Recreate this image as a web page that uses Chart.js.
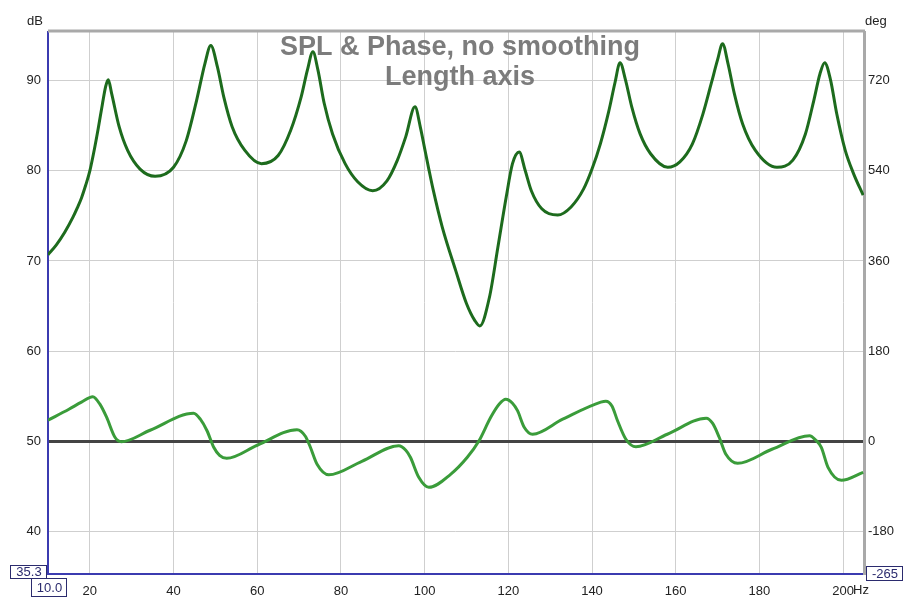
<!DOCTYPE html>
<html>
<head>
<meta charset="utf-8">
<title>SPL & Phase</title>
<script src="https://cdn.jsdelivr.net/npm/chart.js@4/dist/chart.umd.min.js"></script>
<style>
  html, body { margin: 0; padding: 0; background: #fff; }
  #wrap { width: 903px; height: 598px; }
</style>
</head>
<body>
<div id="wrap"><canvas id="splChart" width="903" height="598"></canvas></div>
<script>
// ---- data ----
// SPL trace (frequency in Hz, level in dB)
const splHz = [
  10, 12, 14, 16, 17, 18, 19, 20, 21, 22, 23, 23.8, 24.4, 25.2, 27, 29, 32, 35.6,
  40, 43, 45.5, 47.5, 48.9, 50.5, 52, 54, 57, 61,
  65, 68, 70.5, 72, 73.3, 74.5, 76, 78, 81, 84, 87.6,
  91, 93.5, 95.5, 97.7, 99, 100, 101, 102, 104.2, 107.4, 110, 112, 113.2,
  115.5, 117.5, 119.5, 121, 122.6, 124, 125.5, 128, 131.8,
  135, 138, 140, 142, 144, 145.5, 146.7, 148, 149.5, 151.5, 154, 158.1,
  161, 164, 166.5, 168.5, 170, 171.2, 172.5, 174, 176, 179, 184.2,
  188, 191, 193, 194.5, 195.6, 197, 198.5, 200.5, 202.5, 204.8
];
const splDb = [
  70.7, 71.8, 73.2, 74.9, 75.9, 77.0, 78.4, 80.0, 82.2, 84.7, 87.4, 89.4, 90.1, 88.6, 84.9, 82.3, 80.2, 79.4,
  80.4, 83.3, 87.8, 91.9, 93.9, 91.5, 88.2, 84.9, 82.3, 80.8,
  81.7, 84.5, 88.2, 91.2, 93.2, 91.2, 87.5, 84.1, 80.8, 78.8, 77.8,
  78.9, 81.2, 83.8, 87.1, 84.8, 82.5, 80.2, 78.0, 73.8, 69.0, 65.3, 63.4, 62.8,
  66.0, 71.5, 77.1, 80.8, 82.1, 80.1, 77.8, 75.8, 75.1,
  76.0, 78.0, 80.2, 83.0, 86.6, 89.8, 92.0, 90.1, 87.1, 84.1, 81.9, 80.4,
  81.0, 83, 86.3, 89.7, 92.3, 94.1, 91.9, 88.6, 85.2, 82.3, 80.4,
  81.2, 84.1, 87.8, 90.8, 92.0, 90.1, 86.3, 82.3, 79.7, 77.3
];

// Phase trace (frequency in Hz, phase in degrees)
const phaseHz = [
  10, 15, 18, 20.7, 22.4, 24.0, 26, 27.5, 34.4, 44.8, 46.4, 48, 49.6, 51, 52.7,
  60, 69.5, 71.5, 72.7, 74.3, 77.1, 85, 93.8, 95.5, 96.6, 98.6, 101,
  106.2, 110.2, 113, 115.8, 117.8, 119.4, 121, 122.2, 123.8, 125.8,
  133, 142.1, 143.3, 144.8, 146.1, 148.1, 150.5, 158, 167.3, 168.8, 170.4, 172, 174.8,
  183, 192, 193.5, 194.8, 196.4, 199.6, 204.8
];
const phaseDeg = [
  42, 64, 78, 89, 74, 48, 8, -1, 22, 56, 44, 21, -12, -28, -34,
  -8, 23, 10, -12, -46, -67, -40, -9, -18, -32, -72, -92,
  -66, -32, 1, 48, 74, 84, 76, 61, 28, 14,
  44, 78, 80, 70, 41, 4, -11, 14, 46, 36, 8, -26, -44,
  -16, 11, 2, -12, -52, -78, -62
];

// axes
const hzRange = [10, 205];
const dbRange = [35.3, 95.4];
const degRange = [-265, 817];
const hzTicks = [20, 40, 60, 80, 100, 120, 140, 160, 180, 200];
const dbTicks = [40, 50, 60, 70, 80, 90];
const degTicks = [-180, 0, 180, 360, 540, 720];
const titleLines = ['SPL & Phase, no smoothing', 'Length axis'];

const FONT = "'Liberation Sans', Arial, sans-serif";
const colors = {
  spl: '#1d6b1d',
  phase: '#3a9c3a',
  grid: '#cfcfcf',
  zero: '#444444',
  axisBlue: '#3b3bb0',
  frame: '#a9a9a9',
  text: '#222222',
  boxText: '#2b2b6e',
  title: 'rgba(110, 110, 110, 0.9)'
};

function toPoints(xs, ys) {
  return xs.map((x, i) => ({ x: x, y: ys[i] }));
}

function fixTicks(values) {
  return function(scale) {
    scale.ticks = values.map(v => ({ value: v }));
  };
}

// boxed readouts, unit labels, title and frame
const decorPlugin = {
  id: 'decor',
  beforeDatasetsDraw(chart) {
    const ctx = chart.ctx;
    ctx.save();
    ctx.fillStyle = colors.title;
    ctx.font = 'bold 27px ' + FONT;
    ctx.textAlign = 'center';
    ctx.textBaseline = 'middle';
    ctx.fillText(titleLines[0], 460, 48);
    ctx.fillText(titleLines[1], 460, 78);
    ctx.restore();
  },
  afterDraw(chart) {
    const ctx = chart.ctx;
    const a = chart.chartArea;
    ctx.save();

    // top frame line
    ctx.strokeStyle = colors.frame;
    ctx.lineWidth = 3;
    ctx.beginPath();
    ctx.moveTo(a.left, a.top - 1);
    ctx.lineTo(a.right + 1, a.top - 1);
    ctx.stroke();

    // unit labels
    ctx.fillStyle = colors.text;
    ctx.font = '13px ' + FONT;
    ctx.textBaseline = 'middle';
    ctx.textAlign = 'left';
    ctx.fillText('dB', 27, 21);
    ctx.fillText('deg', 865, 21);
    // unit after the last frequency label, same baseline as the tick labels
    ctx.textBaseline = 'top';
    ctx.fillText('Hz', 853, a.bottom + 10);
    ctx.textBaseline = 'middle';

    // boxed range readouts
    function boxText(text, x, y, w, h) {
      ctx.fillStyle = '#fff';
      ctx.fillRect(x, y, w, h);
      ctx.strokeStyle = colors.boxText;
      ctx.lineWidth = 1;
      ctx.strokeRect(x + 0.5, y + 0.5, w, h);
      ctx.fillStyle = colors.boxText;
      ctx.font = '13px ' + FONT;
      ctx.textAlign = 'center';
      ctx.fillText(text, x + w / 2 + 1, y + h / 2 + 1);
    }
    boxText(dbRange[0].toFixed(1), 10, 565, 36, 13);
    boxText(hzRange[0].toFixed(1), 31, 578, 35, 18);
    boxText(String(degRange[0]), 866, 566, 36, 14);

    ctx.restore();
  }
};

const ctx = document.getElementById('splChart');

new Chart(ctx, {
  type: 'line',
  data: {
    datasets: [
      {
        label: 'Phase',
        data: toPoints(phaseHz, phaseDeg),
        yAxisID: 'y2',
        borderColor: colors.phase,
        borderWidth: 3,
        pointRadius: 0,
        cubicInterpolationMode: 'monotone',
        fill: false
      },
      {
        label: 'SPL',
        data: toPoints(splHz, splDb),
        yAxisID: 'y',
        borderColor: colors.spl,
        borderWidth: 3,
        pointRadius: 0,
        cubicInterpolationMode: 'monotone',
        fill: false
      }
    ]
  },
  options: {
    responsive: false,
    animation: false,
    layout: { padding: { top: 32, left: 0, right: 0, bottom: 0 } },
    plugins: {
      legend: { display: false },
      tooltip: { enabled: false }
    },
    scales: {
      x: {
        type: 'linear',
        min: hzRange[0],
        max: hzRange[1],
        afterBuildTicks: fixTicks(hzTicks),
        afterFit: s => { s.height = 24; },
        grid: { color: colors.grid, lineWidth: 1, drawTicks: false },
        border: { color: colors.axisBlue, width: 2 },
        ticks: {
          color: colors.text,
          font: { family: FONT, size: 13 },
          padding: 10,
          maxRotation: 0,
          autoSkip: false
        }
      },
      y: {
        position: 'left',
        min: dbRange[0],
        max: dbRange[1],
        afterBuildTicks: fixTicks(dbTicks),
        afterFit: s => { s.width = 48; },
        grid: { display: false, drawTicks: false },
        border: { color: colors.axisBlue, width: 2 },
        ticks: {
          color: colors.text,
          font: { family: FONT, size: 13 },
          padding: 7
        }
      },
      y2: {
        position: 'right',
        min: degRange[0],
        max: degRange[1],
        afterBuildTicks: fixTicks(degTicks),
        afterFit: s => { s.width = 39; },
        grid: {
          drawTicks: false,
          color: c => c.tick && c.tick.value === 0 ? colors.zero : colors.grid,
          lineWidth: c => c.tick && c.tick.value === 0 ? 3 : 1
        },
        border: { color: colors.frame, width: 3 },
        ticks: {
          color: colors.text,
          font: { family: FONT, size: 13 },
          padding: 4
        }
      }
    }
  },
  plugins: [decorPlugin]
});
</script>
</body>
</html>
